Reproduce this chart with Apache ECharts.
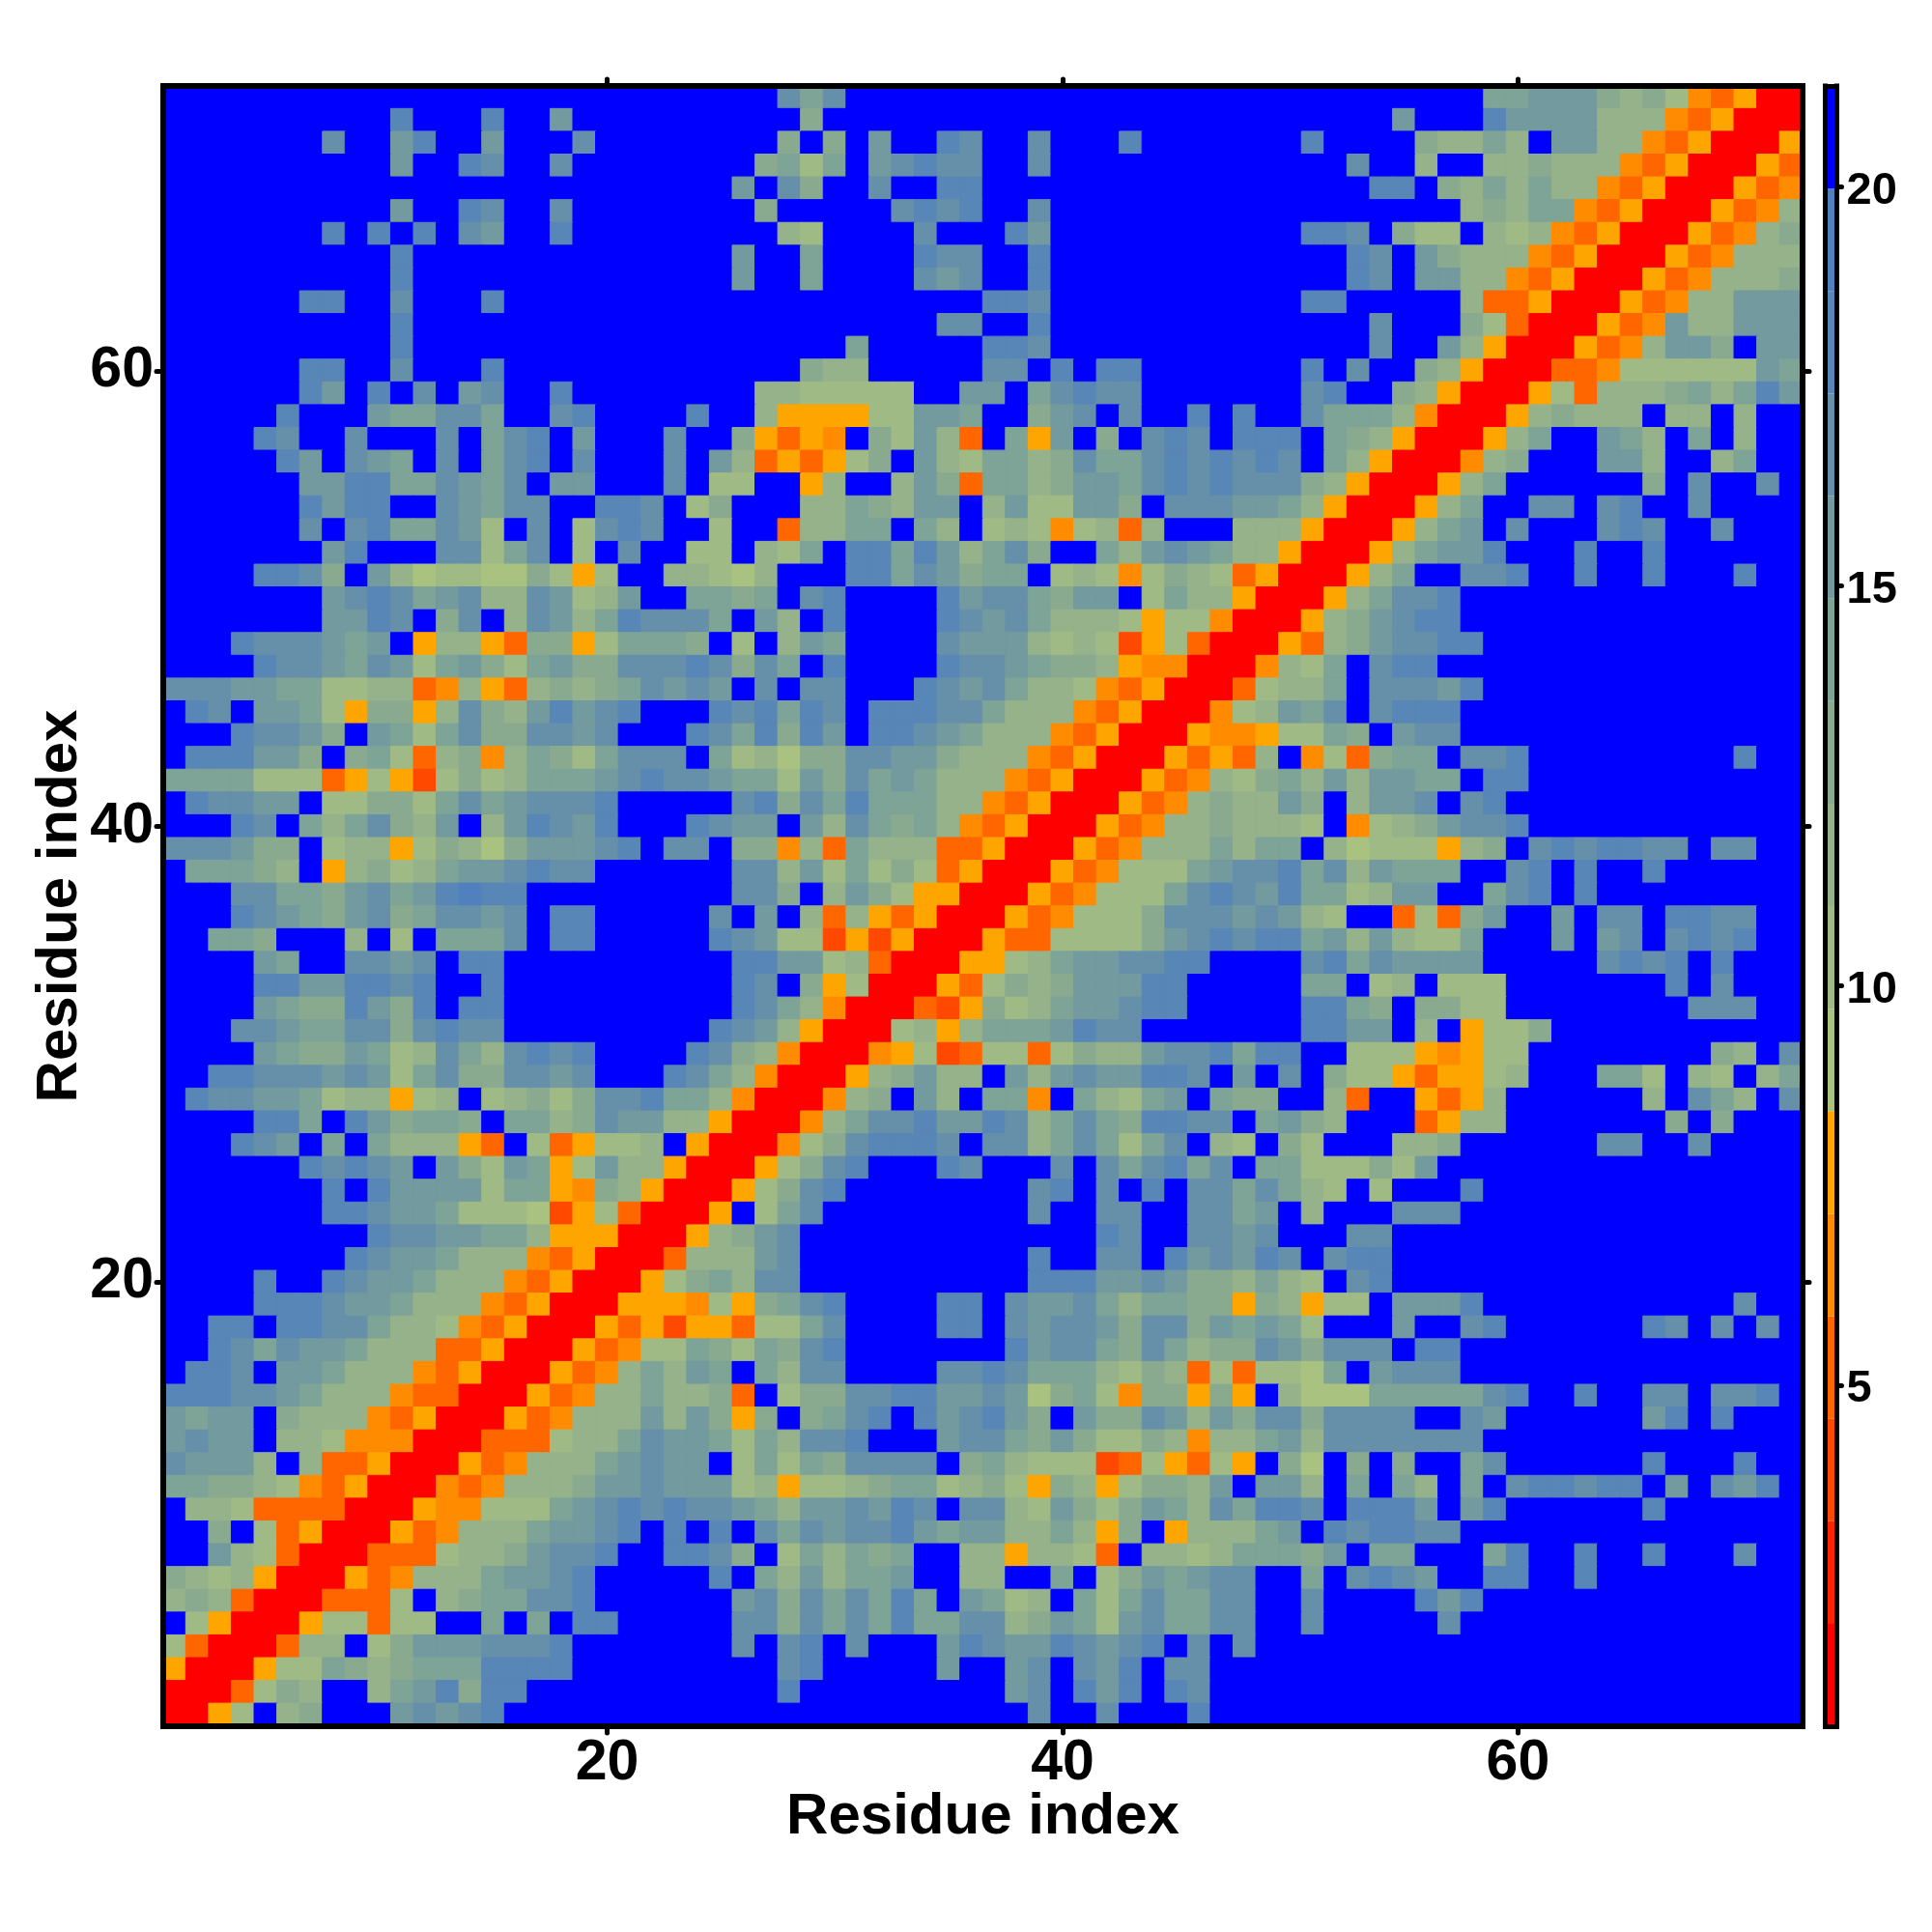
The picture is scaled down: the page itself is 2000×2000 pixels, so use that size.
<!DOCTYPE html>
<html><head><meta charset="utf-8">
<script src="https://cdn.jsdelivr.net/npm/echarts@6/dist/echarts.min.js"></script>
<style>html,body{margin:0;background:#fff}#c{width:2000px;height:2000px}</style></head>
<body><div id="c"></div>
<script>
const residues = Array.from({length:72},(_,i)=>String(i+1));
const axisTickLabels = ['20','40','60'];
const barTickValues = [5,10,15,20];
const binStart = 0.73, binWidth = 1.283;
const binColors = ['#ff0000','#ff2400','#ff4800','#ff6600','#ff8c00','#ffa500',
  '#a9c280','#a0ba86','#95b28a','#8aaa90','#7ea397','#739a9e','#6690aa','#5886b6','#5080bd','#0000ff'];
// one hex digit per cell = colour bin of the distance; rows listed from residue 72 down to 1
const rowsTopDown = [
"ffffffffff ffffffffff fffffffcac ffffffffff ffffffffff ffffffffaa bbb9897435 00",
"ffffffffff dfffdffbff ffffffff9f ffffffffff ffffffffff ffffbfffdb bbb8884350 00",
"fffffffcff bdffbfffcf fffffff9f9 fbffdcffcf ffdfffffff dffff988a8 fbb8843500 05",
"ffffffffff bffdcffcff ffffff9a7a fbcdccffcf ffffffffff ffcff8ff88 9888435000 53",
"ffffffffff ffffffffff fffffbfc9f fcffddffff ffffffffff fffddf98a8 a884350005 34",
"ffffffffff bffdcffcff ffffff9fff ffcdcdffcf ffffffffff fffffff898 aa43500053 48",
"fffffffdfd fdfcbffdff fffffff87f fffcfffdbf ffffffffff ddcf977f87 8435000534 89",
"ffffffffff dfffffffff fffffbffaf fffdccffdf ffffffffff ffdcfb9888 4350005348 88",
"ffffffffff dfffffffff fffffbffaf fffcbcffdf ffffffffff ffdcfbb884 3500053488 89",
"ffffffddff cfffdfffff ffffffffff ffffffddcf ffffffffff ddfffff833 500053488b bb",
"ffffffffff dfffffffff ffffffffff ffffccffdf ffffffffff fffcfff973 000534b88b bb",
"ffffffffff dfffffffff ffffffffff afffffddcf ffffffffff fffcffb850 005348bb9f bb",
"ffffffddff cfffdfffff ffffffff98 8fffffccfd fddfffffff dfcff98500 0334777777 ba",
"ffffffdbfd fcfbcffdff ffffff8877 777ffbbfac dccfffffff cdff985000 5738889a8a db",
"fffffdfffb aaccaffcdf fffdff8555 577bbaff9b cfcffdfdff caaa840005 89888f88f8 ff",
"ffffdcffcf ffcfacdfbf ffcff95354 f97b83fa5b f9fcdcfddd fa98500058 affba8faf8 ff",
"fffffdbfcb afcfacdfcf ffcfb83535 79fb87aa89 caacdcdcdc fa85000489 fffbb8ff8a ff",
"ffffffbbdd aacbacfbbf ffcf77ff58 ff8b93aa89 bbacdcdccc 98500058af fffff9fcff cf",
"ffffffdbdd ffcbaccffd dcf79fff88 a98bbf8b77 bb9fcccbba 8500058aff ccfcdffcff ff",
"ffffffcfcd aacb7fcf7c dcff7ff388 aafa8f7874 7838fff888 500058abfc fffcdcffcf ff",
"fffffffbdf ffcc7acf7f cff77f87af ddadb8ac9f fa8bcba885 00058abbdf ffdffdffff ff",
"ffffddc9fb 8677669757 ff88768fff ddacb9aaf7 8747987350 0058affccd ffdffdfffd ff",
"fffffffbcd cabc88cb78 bffaa9afcd ffffdbcca9 bbf7a88500 058accdfff ffffffffff ff",
"fffffffbbd cf9cf8cb8a dcccafb8fd ffffdcbca8 8875774000 589bcddfff ffffffffff ff",
"fffdcccbab f588539957 aaa9f7f8ba ffffcbbb87 8725730005 389bccddff ffffffffff ff",
"ffffdccbac b7ab97ab99 cccdc9cafd ffffdccba9 9854400048 7afcddffff ffffffffff ff",
"cccbbaa778 8348538989 acbcbfcfcc fffdcbca88 7435000378 8afcccbdff ffffffffff ff",
"fdcfbba759 958c98bdbc dfffdcdadc fdddcca888 435000478b acfcdddfff ffffffffff ff",
"fffdccb9fb a7ac99ccbc fffdcad9db fddcba8884 3500054457 7a9fbccfff ffffffffff ff",
"fdddbb9f9a 738948a97a cccfa78699 ccbb988843 500053538f 4739aafccd fffffffffd ff",
"aaaa777357 527978aaab cdccbaa7b9 caba888435 000534879a 8b8bbaafdd ffffffffff ff",
"fdccbbf779 97acabcccd fffffcd9ca daaa884350 005348988b 9f8bbcfcdf ffffffffff ff",
"fffdcfa8ac 98bf8bdcbd fffdcbbfb8 ca9a843500 0534889888 7f4789bccd ffffffffff ff",
"cccb99f788 579869bbbc dfccf99483 a888335000 534888a8aa f86777589f cdcddccfcc ff",
"faaa98f589 78abbcdccf fffffcc8b7 a797350005 34777abccd ac8baaaffc dfdffdffff ff",
"fffccaa9bc abdeddffff fffffcc9f8 b975500053 4777acdcbd aa78bbffac dfdfffffff ff",
"fffdcba9bc 9accbcfddf ffffcfbf83 8535000534 7779cccbcb 87ff3739bf fbfccfddcc ff",
"ffaa9fff8f 7faaacfddf ffffdcb772 5250005337 7779bcdcdd ab8b877aff fbfbcfcdcd ff",
"ffffbaffcc bcfddfffff fffffddbb7 830005578a bbccddffff cdacbbbbff fffcdcdfdf ff",
"ffffddbbdd cdffdfffff fffffdcf95 7000537989 bbbddfffff aaf78f777f ffffffdfcf ff",
"ffffba99db 9dfddfffff fffffdca84 000325978a bbcddfffff dda9f9977f fffffffccc ff",
"fffccbaacc 9cdccfffff ffffdcb850 007858aaab dccfffffff ddbbf8f577 9fffffffff ff",
"ffffba99ba 78ca8cdcdf fffdc98400 0457237737 988bccdadd ff77754577 ffffffff98 fc",
"ffddcccbcb 7ac99ccbcf ffdca84000 589b88fb8b cbbddcfbfc f977535578 fffaa7f87f 8a",
"fdccbba788 578f78979c cdaa840004 89fb8faa4f a87abfa99f f83ff5358f fffff8fca8 fc",
"ffffddafdb 9aa9faa89c bb88500048 accdbbdc8a ca9ddccfab 98fff3588f ffffff9f9f ff",
"fffdcbfafa 88853f7357 78f5000479 cdddcfcc8a ca7acf87f9 7fff889fff fffccffcff ff",
"ffffffdcdc bfb97ba57b 885000579c dfffdcfffc fcacdacfaa 77797bffff ffffffffff ff",
"fffffffdfd bbbb7aa549 85000579cd ffffffffcd fcfdfccaca 87f7fffdff ffffffffff ff",
"fffffffddc bba7776257 30005f7acf ffffffffcf fccffccabf 8fffcccfff ffffffffff ff",
"fffffffffd ccbbaa8555 000589bcff ffffffffff fdcffccbcf ffccffffff ffffffffff ff",
"ffffffffdc bba8884350 003888bcff ffffffffdf fccfdbcbdc fcddffffff ffffffffff ff",
"ffffdffdcb ba88843500 0579a8ccff ffffffffdd dbbcb998a8 7fcdffffff ffffffffff ff",
"ffffdddcbb a888435000 5554759acd ffffddfcbb ca8aa99598 577fbbbdff fffffffffc ff",
"ffddfddcca 8874350005 35255377ac ffffddfcbc cb9cc9baba 7fffbffcdf fffffdcfcf cf",
"ffdcacbba8 8833500053 477a97a9cd fffffffdbc ca9ca899cb 9cccfddfff ffffffffff ff",
"fddcfbba88 8435000534 8a8bafa8cc ffffccdcaa a879837377 6afbcccfff ffffffffff ff",
"dddccba888 4330005348 8a8893f799 ccddbbcb69 a7499595f8 666aaaaacd ffdffccfcc df",
"babbf98884 3500053488 8b8b959f9a cdfdbcdb9f b99cb8b9cc 9ccccffcbf fffffbdfdf ff",
"bcbbf88744 4000333788 acbba7a8cc dfffbcca9b 97798488ab 8cccccccff ffffffffff ff",
"cbbb8f8335 000534888a bcbbf7a7a9 ccccf9a877 72375375f9 6f9f9ffacf fffffdfffd ff",
"aa99874350 004348889b bcbbb78577 89aa789759 857998bfbb 8fafa8fafc ddcddfbfcb df",
"f887333300 0544777abc dcdccba8bb cbdcfcc87b 979ba8cadd cfdddbfbdf fffffdffff ff",
"ff9f735000 534888abbc dfdfdfcacb ccdbabb88a 859f5888ab fdcddccfff ffffffffff ff",
"ffb8730003 337889bccd ffddc9f7a8 a9aff88588 73f8878aaa 9bfaafffad ffdffdfffc ff",
"9878500053 4888abbcdf ffffdfa8b8 aabff88ffa f79babccff afcdcbffdd ffdfffffff ff",
"8983000333 7f89aaccdf fffffbc9ca cadafba78f a7acaaccff cffffdbdff ffffffffff ff",
"f750005773 77ffafafdd fffffcc9ca cadaacc89b a7bcaaccff cfffffcfff ffffffffff ff",
"73000388f7 9bbbcccdff fffffcfcdf cfffbdcbbd cbcdfcfcff ffffffffff ffffffffff ff",
"5000577a98 9aaaddddff fffffffcdf ffffbffbcf cbdfccffff ffffffffff ffffffffff ff",
"0003798ff8 abd9ddffff fffffffdff fffffffbcf dbdfdcffff ffffffffff ffffffffff ff",
"0057f89fff bcbcdfffff ffffffffff ffffffffcf fcfffdffff ffffffffff ffffffffff ff"
];

const cells = [];
rowsTopDown.forEach((row, r) => {
  const s = row.replace(/ /g,'').padEnd(72,'f').slice(0,72);
  for (let c = 0; c < 72; c++) {
    const bin = parseInt(s[c],16);
    cells.push({
      value:[c, 71 - r, binStart + binWidth * (bin + 0.5)],
      itemStyle:{borderColor:binColors[bin], borderWidth:1}
    });
  }
});
const pieces = binColors.map((color,i)=>({gte:binStart+binWidth*i, lt:binStart+binWidth*(i+1), color}));

const FONT = '"Liberation Sans", Arial, sans-serif';
const isTick = (i,v) => axisTickLabels.includes(v);
const mainLine = {show:true, onZero:false, lineStyle:{color:'#000',width:6,cap:'square'}};
const mainTick = {show:true, alignWithLabel:true, interval:isTick, length:7, lineStyle:{color:'#000',width:5,cap:'round'}};
const mainLabel = {show:true, interval:isTick, color:'#000', fontFamily:FONT, fontWeight:'bold', fontSize:59};
const nameStyle = {color:'#000', fontFamily:FONT, fontWeight:'bold', fontSize:60};

const barLine = {show:true, onZero:false, lineStyle:{color:'#000',width:5,cap:'square'}};
const binTops = binColors.map((_,i)=> binStart + binWidth*(i+1));

const barSeries = binColors.map((color,i)=>({
  type:'bar', xAxisIndex:2, yAxisIndex:3, stack:'bar', barWidth:'100%', silent:true, z:1,
  itemStyle:{color}, data:[ i===0 ? binTops[0] : binWidth ], animation:false
}));

const chart = echarts.init(document.getElementById('c'), null, {renderer:'canvas'});
chart.setOption({
  animation:false,
  backgroundColor:'#fff',
  grid:[
    {left:169, top:89, width:1697, height:1698, outerBoundsMode:'none', containLabel:false},
    {left:1889.5, top:89, width:12, height:1698, outerBoundsMode:'none', containLabel:false}
  ],
  xAxis:[
    {type:'category', gridIndex:0, position:'bottom', data:residues, boundaryGap:true, z:10,
     axisLine:mainLine, axisTick:mainTick, splitLine:{show:false},
     axisLabel:Object.assign({margin:9},mainLabel),
     name:'Residue index', nameLocation:'middle', nameGap:64, nameMoveOverlap:false, nameTextStyle:nameStyle},
    {type:'category', gridIndex:0, position:'top', data:residues, boundaryGap:true, z:10,
     axisLine:mainLine, axisTick:mainTick, axisLabel:{show:false}, splitLine:{show:false}},
    {type:'category', gridIndex:1, position:'bottom', data:['bar'], z:10,
     axisLine:barLine, axisTick:{show:false}, axisLabel:{show:false}, splitLine:{show:false}},
    {type:'category', gridIndex:1, position:'top', data:['bar'], z:10,
     axisLine:barLine, axisTick:{show:false}, axisLabel:{show:false}, splitLine:{show:false}}
  ],
  yAxis:[
    {type:'category', gridIndex:0, position:'left', data:residues, boundaryGap:true, z:10,
     axisLine:mainLine, axisTick:mainTick, splitLine:{show:false},
     axisLabel:Object.assign({margin:10, padding:[8,0,0,0]},mainLabel),
     name:'Residue index', nameLocation:'middle', nameGap:77, nameRotate:90, nameMoveOverlap:false, nameTextStyle:nameStyle},
    {type:'category', gridIndex:0, position:'right', data:residues, boundaryGap:true, z:10,
     axisLine:mainLine, axisTick:mainTick, axisLabel:{show:false}, splitLine:{show:false}},
    {type:'value', gridIndex:1, position:'left', min:binStart, max:binStart+binWidth*16, z:10,
     axisLine:barLine, axisTick:{show:false}, axisLabel:{show:false}, splitLine:{show:false}},
    {type:'value', gridIndex:1, position:'right', min:binStart, max:binStart+binWidth*16, z:10,
     axisLine:barLine, splitLine:{show:false},
     axisTick:{show:true, customValues:barTickValues, length:5, lineStyle:{color:'#000',width:5,cap:'round'}},
     axisLabel:{show:true, customValues:barTickValues, margin:10, color:'#000',
                formatter:v=>'{n|'+v+'}', align:'left',
                rich:{n:{fontFamily:FONT, fontWeight:'bold', fontSize:47, color:'#000', padding:[9,0,0,0]}}}}
  ],
  visualMap:{show:false, type:'piecewise', seriesIndex:0, dimension:2, pieces},
  series:[
    {type:'heatmap', xAxisIndex:0, yAxisIndex:0, data:cells, progressive:0, animation:false, silent:true, z:1,
     emphasis:{disabled:true}}
  ].concat(barSeries)
});
</script></body></html>
